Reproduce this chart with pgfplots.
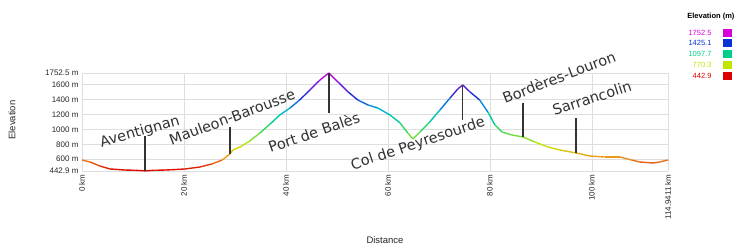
\documentclass[border=0pt]{standalone}
\usepackage{fontspec}
\setmainfont{Liberation Sans}
\newfontfamily\placefont{DejaVu Sans}
\usepackage{pgfplots}
\pgfplotsset{compat=1.18}
\definecolor{gridgray}{RGB}{222,222,222}
\definecolor{labgray}{RGB}{50,50,50}
\definecolor{cMag}{RGB}{215,0,220}
\definecolor{cBlue}{RGB}{10,50,215}
\definecolor{cGreen}{RGB}{0,205,140}
\definecolor{cYel}{RGB}{195,230,0}
\definecolor{cRed}{RGB}{220,0,0}
\begin{document}
\begin{tikzpicture}[x=1pt,y=1pt]
\useasboundingbox (0,0) rectangle (740,247);
\begin{axis}[
  at={(82pt,76pt)}, anchor=south west,
  scale only axis, width=586pt, height=98pt,
  xmin=0, xmax=114.9411, ymin=442.9, ymax=1752.5,
  axis line style={draw=none},
  tick style={draw=none},
  grid=major, grid style={gridgray, line width=0.6pt},
  ytick={442.9,600,800,1000,1200,1400,1600,1752.5},
  yticklabels={442.9 m,600 m,800 m,1000 m,1200 m,1400 m,1600 m,1752.5 m},
  xtick={0,20,40,60,80,100,114.9411},
  xticklabels={0 km,20 km,40 km,60 km,80 km,100 km,114.9411 km},
  x tick label style={rotate=90, anchor=east},
  tick label style={font=\fontsize{8}{9}\selectfont, text=black!85},
  /pgf/number format/assume math mode=true,
  colormap={elev}{rgb255(0)=(220,0,0); rgb255(1)=(240,140,30); rgb255(2)=(205,230,0); rgb255(4)=(0,210,140); rgb255(5)=(0,180,220); rgb255(6)=(20,50,210); rgb255(8)=(210,0,220)},
  point meta min=442.9, point meta max=1752.5,
  clip=false,
]
\addplot[mesh, point meta=y, line width=1.4pt] coordinates {
(0,590) (1.6,563) (3.5,510) (5.5,470) (8.4,456) (10.5,452) (12.4,445) (14.2,452) (16.3,456)
(18.2,462) (20.2,470) (23.1,496) (25.5,537) (27.5,590) (29.0,670) (29.6,724) (31.0,764)
(32.9,844) (34.9,951) (36.9,1071) (38.8,1192) (40.8,1285) (42.7,1392) (44.7,1526)
(46.7,1660) (48.4,1752.5) (50.2,1633) (52.2,1499) (54.1,1392) (56.1,1325) (58.0,1285)
(60.4,1192) (62.4,1085) (63.9,951) (64.9,871) (66.3,964) (68.2,1098) (70.2,1258)
(72.2,1419) (73.7,1539) (74.7,1593) (76.1,1499) (78.0,1392) (79.6,1232) (81.0,1058)
(82.4,964) (84.3,924) (86.5,898) (88.8,831) (91.4,764) (93.7,724) (96.9,684) (99.6,643)
(102.5,630) (105.5,630) (107.8,590) (109.4,563) (112.0,550) (113.3,563) (114.9411,590)
};
% place markers
\addplot[black!80, line width=1.5pt] coordinates {(12.4,445) (12.4,911)};
\addplot[black!80, line width=1.5pt] coordinates {(29.0,670) (29.0,1031)};
\addplot[black!80, line width=1.5pt] coordinates {(48.4,1752.5) (48.4,1218)};
\addplot[black!80, line width=1.5pt] coordinates {(74.6,1593) (74.6,1125)};
\addplot[black!80, line width=1.5pt] coordinates {(86.5,898) (86.5,1352)};
\addplot[black!80, line width=1.5pt] coordinates {(96.9,684) (96.9,1151)};
\end{axis}
% place names
\begin{scope}[every node/.style={text=labgray, inner sep=0pt, font=\placefont\fontsize{14.5}{15}\selectfont}]
\node[rotate=16] at (140,115) {Aventignan};
\node[rotate=20.5] at (232,130) {Mauleon-Barousse};
\node[rotate=19] at (314,115) {Port de Balès};
\node[rotate=18.5] at (418,103) {Col de Peyresourde};
\node[rotate=21] at (559,170) {Bordères-Louron};
\node[rotate=18] at (592,149) {Sarrancolin};
\end{scope}
% axis titles
\node[font=\fontsize{9.5}{11}\selectfont, text=black!85] at (385,7) {Distance};
\node[font=\fontsize{9.5}{11}\selectfont, text=black!85, rotate=90] at (12,127) {Elevation};
% colour legend
\node[font=\bfseries\fontsize{7.5}{8}\selectfont, anchor=east] at (738,230) {Elevation (m)};
\begin{scope}[every node/.style={font=\fontsize{7.5}{8}\selectfont, anchor=east}]
\node[text=cMag] at (715,214) {1752.5};
\node[text=cBlue] at (715,204) {1425.1};
\node[text=cGreen] at (715,193) {1097.7};
\node[text=cYel] at (715,182) {770.3};
\node[text=cRed] at (715,171) {442.9};
\end{scope}
\fill[cMag] (723,210) rectangle (732,218);
\fill[cBlue] (723,200) rectangle (732,208);
\fill[cGreen] (723,189) rectangle (732,197);
\fill[cYel] (723,178) rectangle (732,186);
\fill[cRed] (723,167) rectangle (732,175);
\end{tikzpicture}
\end{document}
